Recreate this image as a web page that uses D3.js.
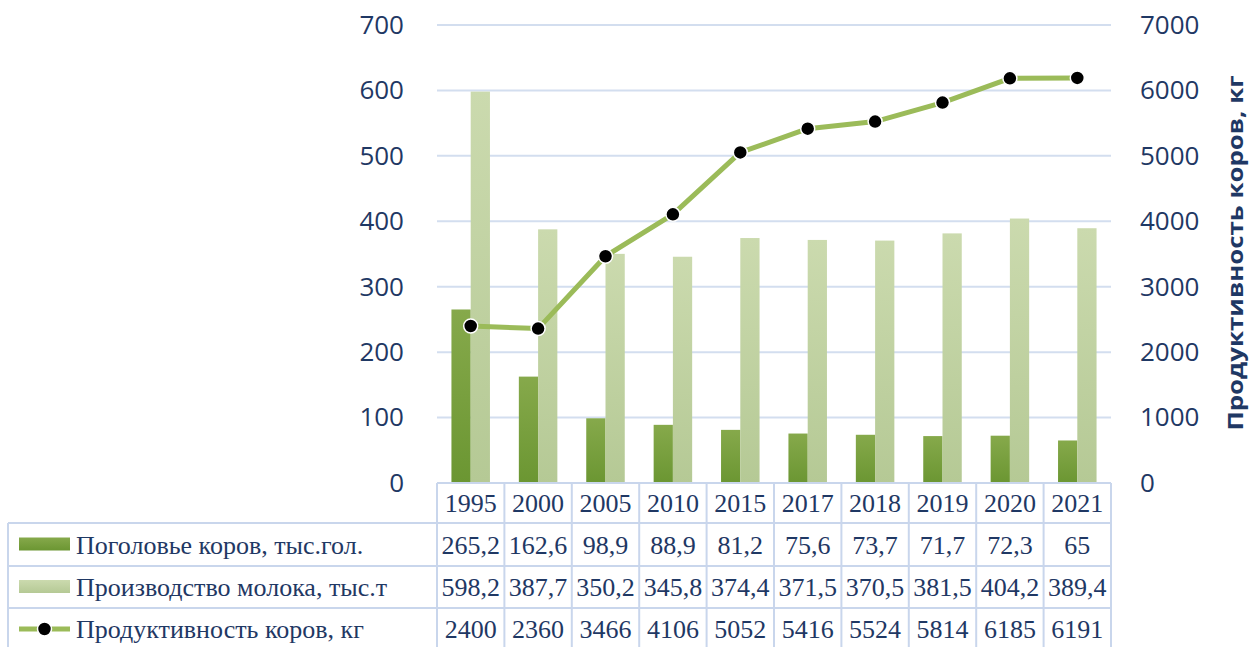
<!DOCTYPE html>
<html>
<head>
<meta charset="utf-8">
<script src="https://cdn.jsdelivr.net/npm/d3@7"></script>
<style>
  body { margin: 0; background: #fff; }
  svg { display: block; }
</style>
</head>
<body>
<div id="chart"></div>
<script>
const years = ['1995', '2000', '2005', '2010', '2015', '2017', '2018', '2019', '2020', '2021']
const cows = [265.2, 162.6, 98.9, 88.9, 81.2, 75.6, 73.7, 71.7, 72.3, 65]
const milk = [598.2, 387.7, 350.2, 345.8, 374.4, 371.5, 370.5, 381.5, 404.2, 389.4]
const yieldKg = [2400, 2360, 3466, 4106, 5052, 5416, 5524, 5814, 6185, 6191]
const seriesNames = ['Поголовье коров, тыс.гол.', 'Производство молока, тыс.т', 'Продуктивность коров, кг']
const leftTicks = [0, 100, 200, 300, 400, 500, 600, 700]
const rightTicks = [0, 1000, 2000, 3000, 4000, 5000, 6000, 7000]

const fmt = v => String(v).replace('.', ',')

const w = 1249
const h = 647
const plot = { left: 437, right: 1111, top: 25, bottom: 483 }
const rowH = [40, 43, 42, 42]
const tableLeft = 8
const axisColor = '#1f3864'
const gridColor = '#d3deef'
const lineColor = '#9bbb59'

const svg = d3.select('#chart').append('svg')
  .attr('width', w)
  .attr('height', h)

const defs = svg.append('defs')
const grad = (id, top, bottom) => {
  const g = defs.append('linearGradient').attr('id', id)
    .attr('x1', 0).attr('y1', 0).attr('x2', 0).attr('y2', 1)
  g.append('stop').attr('offset', '0%').attr('stop-color', top)
  g.append('stop').attr('offset', '100%').attr('stop-color', bottom)
}
grad('gDark', '#86a94b', '#6b9632')
grad('gLight', '#cbdaae', '#b5c995')

const x = d3.scaleBand().domain(years).range([plot.left, plot.right])
const xs = d3.scaleBand().domain(['cows', 'milk']).range([0, x.bandwidth()]).paddingOuter(0.75)
const yL = d3.scaleLinear().domain([0, 700]).range([plot.bottom, plot.top])
const yR = d3.scaleLinear().domain([0, 7000]).range([plot.bottom, plot.top])

// gridlines
svg.append('g')
  .selectAll('line')
  .data(leftTicks.slice(1))
  .enter().append('line')
  .attr('x1', plot.left).attr('x2', plot.right)
  .attr('y1', d => yL(d)).attr('y2', d => yL(d))
  .attr('stroke', gridColor).attr('stroke-width', 2)

// left axis
const axL = svg.append('g')
  .attr('transform', 'translate(' + (plot.left - 33) + ',0)')
  .call(d3.axisLeft(yL).tickValues(leftTicks).tickSize(0).tickPadding(0))
axL.select('.domain').remove()
axL.selectAll('text')
  .attr('fill', axisColor)
  .style('font-family', '"Open Sans", sans-serif')
  .style('font-size', '26px')

// right axis
const axR = svg.append('g')
  .attr('transform', 'translate(' + (plot.right + 29) + ',0)')
  .call(d3.axisRight(yR).tickValues(rightTicks).tickFormat(d3.format('d')).tickSize(0).tickPadding(0))
axR.select('.domain').remove()
axR.selectAll('text')
  .attr('fill', axisColor)
  .style('font-family', '"Open Sans", sans-serif')
  .style('font-size', '26px')

svg.append('text')
  .attr('transform', 'translate(1235,253) rotate(-90)')
  .attr('text-anchor', 'middle')
  .attr('dy', '0.35em')
  .attr('fill', axisColor)
  .attr('textLength', 355)
  .attr('lengthAdjust', 'spacingAndGlyphs')
  .style('font-family', '"Open Sans", sans-serif')
  .style('font-weight', 'bold')
  .style('font-size', '22px')
  .text('Продуктивность коров, кг')

// bars
const groups = svg.append('g').selectAll('g')
  .data(years)
  .enter().append('g')
  .attr('transform', d => 'translate(' + x(d) + ',0)')

groups.append('rect')
  .attr('x', xs('cows'))
  .attr('width', xs.bandwidth())
  .attr('y', (d, i) => yL(cows[i]))
  .attr('height', (d, i) => yL(0) - yL(cows[i]))
  .attr('fill', 'url(#gDark)')

groups.append('rect')
  .attr('x', xs('milk'))
  .attr('width', xs.bandwidth())
  .attr('y', (d, i) => yL(milk[i]))
  .attr('height', (d, i) => yL(0) - yL(milk[i]))
  .attr('fill', 'url(#gLight)')

// line
const cx = d => x(d) + x.bandwidth() / 2
const line = d3.line()
  .x((d, i) => cx(years[i]))
  .y(d => yR(d))

svg.append('path')
  .datum(yieldKg)
  .attr('d', line)
  .attr('fill', 'none')
  .attr('stroke', lineColor)
  .attr('stroke-width', 5)
  .attr('stroke-linejoin', 'round')

svg.append('g').selectAll('circle')
  .data(yieldKg)
  .enter().append('circle')
  .attr('cx', (d, i) => cx(years[i]))
  .attr('cy', d => yR(d))
  .attr('r', 7)
  .attr('fill', '#000')
  .attr('stroke', '#fff')
  .attr('stroke-width', 1.5)

// data table
const rowTop = [plot.bottom]
rowH.forEach((rh, i) => rowTop.push(rowTop[i] + rh))
const table = svg.append('g')
const tStroke = '#c9d6ec'

// horizontal lines
table.append('line')
  .attr('x1', plot.left).attr('x2', plot.right)
  .attr('y1', rowTop[0]).attr('y2', rowTop[0])
  .attr('stroke', tStroke).attr('stroke-width', 2)
table.selectAll('.hrow')
  .data(rowTop.slice(1))
  .enter().append('line')
  .attr('x1', tableLeft).attr('x2', plot.right)
  .attr('y1', d => d).attr('y2', d => d)
  .attr('stroke', tStroke).attr('stroke-width', 2)

// vertical lines
table.selectAll('.vcol')
  .data(years.map(d => x(d)).concat([plot.right]))
  .enter().append('line')
  .attr('x1', d => d).attr('x2', d => d)
  .attr('y1', rowTop[0]).attr('y2', h)
  .attr('stroke', tStroke).attr('stroke-width', 2)
table.append('line')
  .attr('x1', tableLeft).attr('x2', tableLeft)
  .attr('y1', rowTop[1]).attr('y2', h)
  .attr('stroke', tStroke).attr('stroke-width', 2)

const cellText = (sel) => sel
  .attr('fill', axisColor)
  .attr('dy', '0.35em')
  .style('font-family', '"Liberation Serif", "Times New Roman", serif')
  .style('font-size', '26px')

const rows = [years, cows.map(fmt), milk.map(fmt), yieldKg.map(String)]
rows.forEach((vals, r) => {
  const cy = (rowTop[r] + rowTop[r + 1]) / 2
  table.selectAll('.r' + r)
    .data(vals)
    .enter().append('text')
    .attr('x', (d, i) => cx(years[i]))
    .attr('y', cy)
    .attr('text-anchor', 'middle')
    .text(d => d)
    .call(cellText)
})

// legend keys + names
seriesNames.forEach((name, i) => {
  const cy = (rowTop[i + 1] + rowTop[i + 2]) / 2
  if (i < 2) {
    table.append('rect')
      .attr('x', 19).attr('y', cy - 7)
      .attr('width', 51).attr('height', 13)
      .attr('fill', i === 0 ? 'url(#gDark)' : 'url(#gLight)')
  } else {
    table.append('line')
      .attr('x1', 19).attr('x2', 70)
      .attr('y1', cy).attr('y2', cy)
      .attr('stroke', lineColor).attr('stroke-width', 5)
    table.append('circle')
      .attr('cx', 44.5).attr('cy', cy).attr('r', 7)
      .attr('fill', '#000').attr('stroke', '#fff').attr('stroke-width', 1.5)
  }
  table.append('text')
    .attr('x', 76)
    .attr('y', cy)
    .text(name)
    .call(cellText)
})
</script>
</body>
</html>
